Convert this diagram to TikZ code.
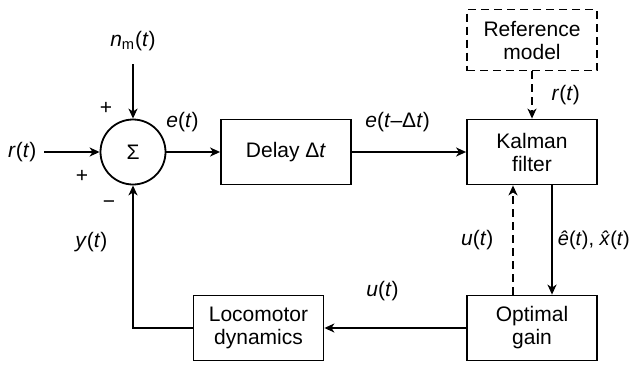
\documentclass[tikz,border=0pt]{standalone}
\usepackage{fontspec}
\setmainfont{Liberation Sans}
\usetikzlibrary{positioning,arrows.meta}

\begin{document}
\begin{tikzpicture}[x=1pt, y=1pt, line width=0.9pt,
    >={Stealth[length=5pt, width=4.5pt, inset=1.5pt]},
    font=\fontsize{10.5}{11.5}\selectfont,
    block/.style={draw, on grid, minimum width=65pt, minimum height=32.5pt, align=center},
    dashline/.style={dash pattern=on 4pt off 2.5pt}]
    \useasboundingbox (0,0) rectangle (315.5,-182.5);

    \node[draw, circle, minimum size=32.5pt, inner sep=0pt] (sum) at (66.5,-76) {Σ};
    \node[block, right=76.5pt of sum] (delay) {Delay Δ\textit{t}};
    \node[block, right=123pt of delay] (kalman) {Kalman\\filter};
    \node[block, dashline, minimum height=30.5pt, above=56pt of kalman] (ref) {Reference\\model};
    \node[block, below=88pt of kalman] (opt) {Optimal\\gain};
    \node[block, left=136.75pt of opt] (loco) {Locomotor\\dynamics};

    \coordinate (rin) at (22,-76);
    \coordinate (nmin) at (66.5,-32);
    \node[anchor=east] (rlab) at (rin) {\textit{r}(\textit{t})};
    \node[above=3pt] (nmlab) at (nmin) {\textit{n}\textsubscript{m}(\textit{t})};
    \node (plustop) at ([shift={(-13.5,22)}]sum) {+};
    \node (plusleft) at ([shift={(-25.5,-12)}]sum) {+};
    \node (minus) at ([shift={(-12,-26.5)}]sum) {−};

    % Signals between the blocks
    \draw[->] (rin) -- (sum);
    \draw[->] (nmin) -- (sum);
    \draw[->] (sum) -- node[above=6.5pt, pos=0.3] (elab) {\textit{e}(\textit{t})} (delay);
    \draw[->] (delay) -- node[above=6.5pt, pos=0.4] (edlab) {\textit{e}(\textit{t}–Δ\textit{t})} (kalman);
    \draw[->, dashline] (ref) -- node[right=6pt] (rlab2) {\textit{r}(\textit{t})} (kalman);
    \draw[->] ([xshift=10pt]kalman.south) -- node[right=1.5pt, inner sep=1pt, font=\fontsize{10}{11.5}\selectfont] (xlab) {\textit{ê}(\textit{t}), \textit{\accent"02C6 x}(\textit{t})} ([xshift=10pt]opt.north);
    \draw[->, dashline] ([xshift=-9.5pt]opt.north) -- node[left=6pt] (ulab) {\textit{u}(\textit{t})} ([xshift=-9.5pt]kalman.south);
    \draw[->] (opt) -- node[above=10pt, pos=0.59] (ulab2) {\textit{u}(\textit{t})} (loco);
    \draw[->] (loco) -| node[left=9pt, pos=0.8] (ylab) {\textit{y}(\textit{t})} (sum);
\end{tikzpicture}
\end{document}
